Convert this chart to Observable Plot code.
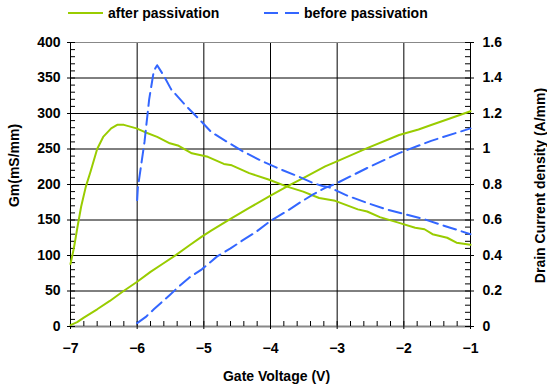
<!DOCTYPE html>
<html><head><meta charset="utf-8">
<script src="https://cdn.jsdelivr.net/npm/d3@7"></script>
<script src="https://cdn.jsdelivr.net/npm/@observablehq/plot@0.6"></script>
<style>
body{margin:0;background:#fff;font-family:"Liberation Sans",Arial,sans-serif;}
#wrap{position:relative;width:547px;height:390px;overflow:hidden;}
#legend{position:relative;width:547px;height:28px;font-weight:bold;font-size:14px;color:#000;}
.item{position:absolute;top:4px;height:18px;display:flex;align-items:center;}
.item svg{margin-right:5px;}
</style></head>
<body>
<div id="wrap">
  <div id="legend">
    <div class="item" style="left:68px"><svg width="35" height="10"><line x1="0" y1="5" x2="35" y2="5" stroke="#99cc00" stroke-width="2"/></svg><span></span></div>
    <div class="item" style="left:264px"><svg width="35" height="10"><line x1="0" y1="5" x2="35" y2="5" stroke="#3366ff" stroke-width="2" stroke-dasharray="14,7"/></svg><span></span></div>
  </div>
  <div id="chart"></div>
</div>
<script>
// Gate voltage (V) and Gm (mS/mm), after passivation
const vAfterGm = [-7, -6.95, -6.89, -6.84, -6.77, -6.70, -6.60, -6.51, -6.39, -6.30, -6.20, -6.01, -5.89, -5.70, -5.51, -5.39, -5.18, -4.94, -4.70, -4.58, -4.32, -4.03, -3.75, -3.51, -3.27, -3.03, -2.69, -2.55, -2.36, -2.07, -1.83, -1.69, -1.57, -1.35, -1.21, -1.00];
const gmAfter  = [88, 110, 143, 169, 197, 218, 250, 267, 279, 284, 284, 279, 274, 267, 258, 255, 244, 239, 229, 227, 216, 207, 197, 190, 181, 177, 165, 162, 154, 146, 139, 137, 130, 125, 118, 115];
// Drain current density (A/mm), after passivation
const vAfterId = [-7, -6.9, -6.8, -6.6, -6.41, -6.22, -6.0, -5.8, -5.61, -5.42, -5.22, -5.03, -4.89, -4.6, -4.32, -4.0, -3.75, -3.46, -3.18, -3.03, -2.55, -2.07, -1.78, -1.59, -1.31, -1.0];
const idAfter  = [0.008, 0.025, 0.05, 0.097, 0.144, 0.196, 0.252, 0.308, 0.355, 0.402, 0.456, 0.506, 0.54, 0.606, 0.668, 0.737, 0.79, 0.846, 0.902, 0.926, 1.005, 1.079, 1.11, 1.135, 1.172, 1.213];
// Gm before passivation
const vBeforeGm = [-6.0, -5.99, -5.89, -5.82, -5.75, -5.70, -5.60, -5.49, -5.27, -5.08, -4.89, -4.65, -4.42, -4.13, -3.84, -3.60, -3.36, -3.22, -3.12, -2.84, -2.55, -2.26, -1.98, -1.69, -1.40, -1.0];
const gmBefore  = [178, 195, 260, 320, 360, 368, 353, 334, 311, 293, 274, 260, 247, 233, 221, 212, 202, 198, 196, 184, 174, 165, 158, 151, 142, 130];
// Drain current before passivation
const vBeforeId = [-6.0, -5.87, -5.75, -5.51, -5.39, -5.22, -5.03, -4.80, -4.60, -4.42, -4.22, -4.0, -3.75, -3.56, -3.36, -3.18, -3.03, -2.55, -2.07, -1.59, -1.0];
const idBefore  = [0.019, 0.054, 0.097, 0.178, 0.22, 0.275, 0.322, 0.395, 0.44, 0.485, 0.532, 0.595, 0.651, 0.698, 0.744, 0.781, 0.803, 0.893, 0.977, 1.046, 1.116];

const xTicks = [-7, -6, -5, -4, -3, -2, -1];
const yTicksLeft = [0, 50, 100, 150, 200, 250, 300, 350, 400];
const yTicksRight = [0, 0.2, 0.4, 0.6, 0.8, 1, 1.2, 1.4, 1.6];
const seriesNames = ["after passivation", "before passivation"];
const xTitle = "Gate Voltage (V)";
const yLeftTitle = "Gm(mS/mm)";
const yRightTitle = "Drain Current density (A/mm)";

const RATIO = 250; // 400 mS/mm <-> 1.6 A/mm
const zip = (xs, ys) => xs.map((v, i) => ({v, y: ys[i]}));
const afterGm = zip(vAfterGm, gmAfter);
const afterId = zip(vAfterId, idAfter);
const beforeGm = zip(vBeforeGm, gmBefore);
const beforeId = zip(vBeforeId, idBefore);

const minorX = d3.range(0, 31).map(i => -7 + i * 0.2);
const minorY = d3.range(0, 41).map(i => i * 10);
const font = {fontFamily: "Liberation Sans, Arial, sans-serif", fontSize: 14, fontWeight: "bold"};
const GREEN = "#99cc00", BLUE = "#3366ff";
const PW = 547 - 70 - 77, PH = 362 - 14 - 64;

const chart = Plot.plot({
  width: 547, height: 362,
  marginTop: 14, marginBottom: 64, marginLeft: 70, marginRight: 77,
  style: {fontFamily: "Liberation Sans, Arial, sans-serif", fontSize: "14px", fontWeight: "bold", background: "#fff", color: "#000"},
  x: {domain: [-7, -1]},
  y: {domain: [0, 400]},
  marks: [
    Plot.gridX(xTicks, {stroke: "#000", strokeOpacity: 1}),
    Plot.gridY(yTicksLeft, {stroke: "#000", strokeOpacity: 1}),
    Plot.ruleY([400], {stroke: "#888"}),
    Plot.ruleY([0], {stroke: "#888", strokeWidth: 2}),
    // inward minor ticks
    Plot.tickX(minorX, {x: d => d, insetTop: PH - 5, stroke: "#000"}),
    Plot.tickY(minorY, {y: d => d, insetRight: PW - 5, stroke: "#000"}),
    Plot.tickY(minorY, {y: d => d, insetLeft: PW - 5, stroke: "#000"}),
    // major ticks + labels
    Plot.axisX(xTicks, {anchor: "bottom", tickSize: 3, tickPadding: 14, label: null, ...font}),
    Plot.axisY(yTicksLeft, {anchor: "left", tickSize: 3, tickPadding: 7, label: null, ...font}),
    Plot.axisY(yTicksRight.map(d => d * RATIO), {anchor: "right", tickSize: 3, tickPadding: 9, label: null,
      tickFormat: d => String(+(d / RATIO).toFixed(1)), ...font}),
    // titles
    Plot.text([xTitle], {frameAnchor: "bottom", dy: 50, dx: 6, lineAnchor: "middle", textAnchor: "middle", ...font}),
    Plot.text([yLeftTitle], {frameAnchor: "left", rotate: -90, dx: -56, dy: -19, lineAnchor: "middle", textAnchor: "middle", ...font}),
    Plot.text([yRightTitle], {frameAnchor: "right", rotate: -90, dx: 70, dy: 1, lineAnchor: "middle", textAnchor: "middle", ...font}),
    // data
    Plot.line(afterGm, {x: "v", y: "y", stroke: GREEN, strokeWidth: 2}),
    Plot.line(afterId, {x: "v", y: d => d.y * RATIO, stroke: GREEN, strokeWidth: 2}),
    Plot.line(beforeGm, {x: "v", y: "y", stroke: BLUE, strokeWidth: 2, strokeDasharray: "13,6"}),
    Plot.line(beforeId, {x: "v", y: d => d.y * RATIO, stroke: BLUE, strokeWidth: 2, strokeDasharray: "13,6"})
  ]
});
document.getElementById("chart").appendChild(chart);
const spans = document.querySelectorAll("#legend span");
spans[0].textContent = seriesNames[0];
spans[1].textContent = seriesNames[1];
</script>
</body></html>
